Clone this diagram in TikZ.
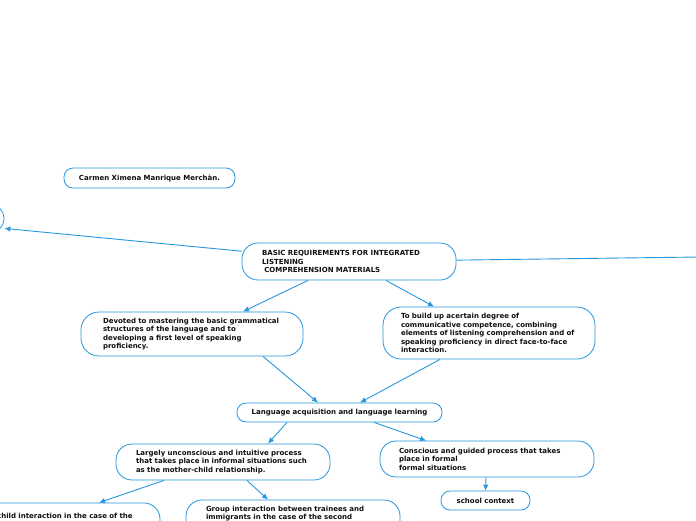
\documentclass[tikz,border=0pt]{standalone}
\usepackage{fontspec}
\setmainfont{DejaVu Sans}
\usepackage{xcolor}
\usetikzlibrary{positioning, shapes, arrows, arrows.meta}

\definecolor{mapblue}{RGB}{38,150,222}
\definecolor{maptext}{RGB}{15,15,15}

\tikzset{
  bubble/.style={draw=mapblue, line width=0.8pt, fill=white, rounded corners=13pt,
    text=maptext, font=\fontsize{7}{8.5}\selectfont\bfseries},
  para/.style={align=left, inner xsep=20pt},
  link/.style={draw=mapblue, line width=0.9pt, -{Latex[length=6pt,width=5.5pt]}}
}

\begin{document}
\begin{tikzpicture}[x=1pt, y=-1pt]
  \useasboundingbox (0,0) rectangle (696,520);
  \clip (0,0) rectangle (696,520);

  \node (carmen) [bubble, minimum width=171pt, minimum height=20pt, rounded corners=9pt] at (149.5,178) {
    Carmen Ximena Manrique Merchàn.
  };

  \node (leftnode) [bubble, minimum width=208pt, minimum height=27pt] at (-100,218.5) {};
  \coordinate (rightend) at (900,254.4);

  \node (main) [bubble, para, text width=174pt, minimum height=37pt, rounded corners=16pt] at (349,261.5) {
    BASIC REQUIREMENTS FOR INTEGRATED\\
    LISTENING\\
    \ COMPREHENSION MATERIALS
  };

  \node (devoted) [bubble, para, inner xsep=22pt, text width=178pt, minimum height=44pt, rounded corners=18pt] at (192,334) {
    \hyphenpenalty=10000
    Devoted to mastering the basic grammatical\\
    structures of the language and to\\
    developing a first level of speaking\\
    proficiency.
  };

  \node (tobuild) [bubble, para, inner xsep=18pt, text width=176pt, minimum height=52pt, rounded corners=18pt] at (489,333) {
    To build up acertain degree of\\
    communicative competence, combining\\
    elements of listening comprehension and of\\
    speaking proficiency in direct face-to-face\\
    interaction.
  };

  \node (lang) [bubble, minimum width=205pt, minimum height=19pt, rounded corners=9pt] at (339.5,412.5) {
    Language acquisition and language learning
  };

  \node (largely) [bubble, para, text width=174pt, minimum height=36pt, rounded corners=16pt] at (223,462) {
    Largely unconscious and intuitive process\\
    that takes place in informal situations such\\
    as the mother-child relationship.
  };

  \node (conscious) [bubble, para, inner xsep=19pt, text width=176pt, minimum height=36pt, rounded corners=16pt] at (487,459) {
    Conscious and guided process that takes\\
    place in formal\\
    formal situations
  };

  \node (school) [bubble, minimum width=89pt, minimum height=19pt, rounded corners=9pt] at (485.5,500.5) {
    school context
  };

  \node (mother) [bubble, para, text width=174pt, minimum height=36pt, rounded corners=16pt] at (53,521) {
    Mother-child interaction in the case of the\\
    first language
  };

  \node (group) [bubble, para, text width=174pt, minimum height=36pt, rounded corners=16pt] at (293,518) {
    Group interaction between trainees and\\
    immigrants in the case of the second\\
    language
  };

  \draw [link] (main) -- (leftnode);
  \draw [link] (main) -- (rightend);
  \draw [link] ([xshift=-41pt]main.south) -- ([xshift=51pt]devoted.north);
  \draw [link] ([xshift=37pt]main.south) -- ([xshift=-55pt]tobuild.north);
  \draw [link] ([xshift=71pt]devoted.south) -- ([xshift=-21.5pt]lang.north);
  \draw [link] ([xshift=-49pt]tobuild.south) -- ([xshift=20.5pt]lang.north);
  \draw [link] ([xshift=-52.5pt]lang.south) -- ([xshift=45pt]largely.north);
  \draw [link] ([xshift=34.5pt]lang.south) -- ([xshift=-61pt]conscious.north);
  \draw [link] ([xshift=-1pt]conscious.south) -- (school.north);
  \draw [link] ([xshift=-59pt]largely.south) -- ([xshift=46pt]mother.north);
  \draw [link] ([xshift=24pt]largely.south) -- ([xshift=-25pt]group.north);
\end{tikzpicture}
\end{document}
